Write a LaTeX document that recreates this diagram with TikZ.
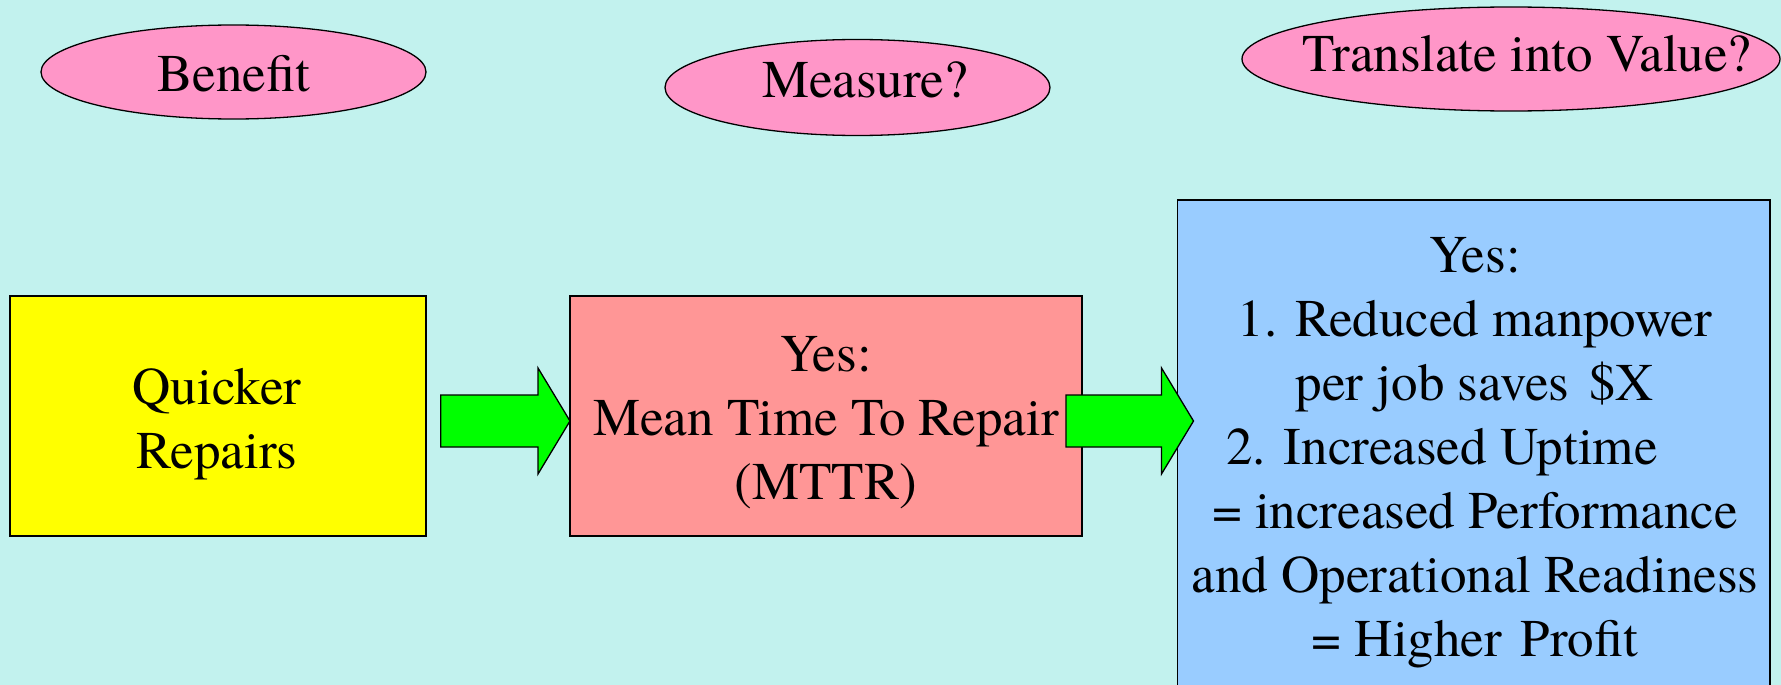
\documentclass[tikz,border=0pt]{standalone}
\usepackage{fontspec}
\setmainfont{texgyretermes-regular.otf}
\usetikzlibrary{shapes.geometric,calc}

\definecolor{bgcyan}{RGB}{194,242,238}
\definecolor{tagpink}{RGB}{255,150,200}
\definecolor{boxyellow}{RGB}{255,255,0}
\definecolor{boxrose}{RGB}{255,150,150}
\definecolor{boxblue}{RGB}{153,204,255}
\definecolor{arrowgreen}{RGB}{0,255,0}

\tikzset{
  tag/.style={ellipse, draw=black, line width=1.3pt, fill=tagpink, inner sep=0pt},
  card/.style={rectangle, draw=black, line width=1.8pt, inner sep=0pt, outer sep=0pt},
  words/.style={inner sep=0pt, font=\rmfamily\fontsize{53}{64}\selectfont, align=center},
  blockarrow/.style={draw=black, line width=1.3pt, fill=arrowgreen, line join=miter},
}

% horizontal block arrow from the tail coordinate #1 to the tip coordinate #2
\newcommand\greenarrow[2]{%
  \draw[blockarrow] let \p1=(#1), \p2=(#2) in
    (\x1,\y2+26pt) -- (\x2-32pt,\y2+26pt) -- (\x2-32pt,\y2+53pt) -- (\x2,\y2)
    -- (\x2-32pt,\y2-53pt) -- (\x2-32pt,\y2-26pt) -- (\x1,\y2-26pt) -- cycle;}

\begin{document}
\begin{tikzpicture}[x=1pt,y=-1pt]
\useasboundingbox (0,0) rectangle (1781,685);
\fill[bgcyan] (0,0) rectangle (1781,685);
\clip (0,0) rectangle (1781,685);

% column headings
\node[tag, minimum width=385pt, minimum height=94pt] (benefit) at (233.5,72) {};
\node[words, anchor=base] (benefitText) at (234,92) {Benefit};

\node[tag, minimum width=385pt, minimum height=96pt] (measure) at (857.5,87.5) {};
\node[words, anchor=base] (measureText) at (865,98) {Measure?};

\node[tag, minimum width=538pt, minimum height=104pt] (value) at (1511,59) {};
\node[words, anchor=base] (valueText) at (1527,72) {Translate into Value?};

% content boxes
\node[card, fill=boxyellow, minimum width=416pt, minimum height=240pt] (yellow) at (217.8,416) {};
\node[words, anchor=north] (yellowText) at (217,359.2)
  {\strut Quicker\\\strut Repairs};

\node[card, fill=boxrose, minimum width=512pt, minimum height=240pt] (pink) at (826,416) {};
\node[words, anchor=north] (pinkText) at (826,326.2)
  {\strut Yes:\\\strut Mean Time To Repair\\\strut (MTTR)};

\node[card, fill=boxblue, minimum width=592.5pt, minimum height=520pt] (blue) at (1473.75,460) {};
\node[words, anchor=north] (blueText) at (1475,227.2)
  {\strut Yes:\\
   \strut 1. Reduced manpower\\
   \strut per job saves\hspace{0.38em}\$X\\
   \strut 2. Increased Uptime\hspace{66pt}\mbox{}\\
   \strut = increased Performance\\
   \strut and Operational Readiness\\
   \strut = Higher\hspace{0.35em}Profit};

% connecting arrows
\coordinate (tail1) at ($(yellow.east)+(15,5)$);
\coordinate (tip1)  at ($(pink.west)+(0,5)$);
\coordinate (tail2) at ($(pink.east)+(-16,5)$);
\coordinate (tip2)  at ($(blue.west |- pink.east)+(16,5)$);
\greenarrow{tail1}{tip1}
\greenarrow{tail2}{tip2}
\end{tikzpicture}
\end{document}
